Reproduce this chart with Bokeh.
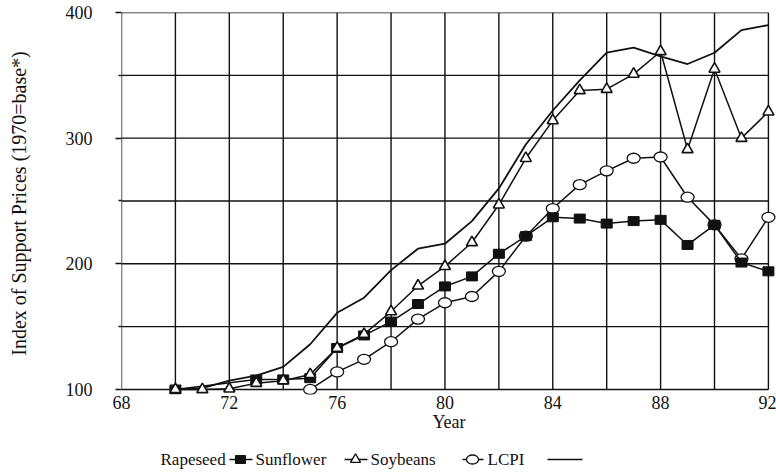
from bokeh.plotting import figure
from bokeh.models import FixedTicker, Range1d
from bokeh.layouts import column
from bokeh.core.properties import value
from bokeh.embed import file_html
from bokeh.resources import INLINE

# ---- data ----
rape_years = [70, 73, 74, 75, 76, 77, 78, 79, 80, 81, 82, 83, 84, 85, 86, 87, 88, 89, 90, 91, 92]
rapeseed = [100, 108, 108, 109, 133, 143, 154, 168, 182, 190, 208, 222, 237, 236, 232, 234, 235, 215, 231, 201, 194]

sun_years = list(range(70, 93))
sunflower = [100, 100, 100.5, 105, 107, 112, 133, 144, 162, 182.5, 198, 217, 247, 284, 314, 338, 339, 351, 369, 291, 355, 300, 321]

soy_years = list(range(75, 93))
soybeans = [100, 114, 124, 138, 156, 169, 174, 194, 222, 244, 263, 274, 284, 285, 253, 231, 204, 237]

lcpi_years = list(range(70, 93))
lcpi = [100, 101, 107, 111, 118, 136, 161, 173, 195, 212, 216, 234, 260, 295, 322, 346, 368, 372, 365, 359, 368, 386, 390]

x_ticks = [68, 72, 76, 80, 84, 88, 92]
x_grid = list(range(68, 93, 2))
y_ticks = [100, 200, 300, 400]
y_minor = [150, 250, 350]
y_grid = list(range(100, 401, 50))

series_labels = ["Rapeseed", "Sunflower", "Soybeans", "LCPI"]
x_title = "Year"
y_title = "Index of Support Prices (1970=base*)"

FONT = "Liberation Serif"
INK = "#111111"
X0, X1 = x_grid[0], x_grid[-1]
Y0, Y1 = y_grid[0], y_grid[-1]

# ranges padded slightly so edge markers are not clipped; the frame lines are drawn at 68/92 and 100/400
p = figure(width=776, height=440, output_backend="svg", toolbar_location=None,
           x_range=Range1d(X0, X1 + 0.3), y_range=Range1d(Y0 - 4, Y1),
           min_border_left=121, min_border_right=0, min_border_top=12, min_border_bottom=46,
           x_axis_label=x_title, y_axis_label=y_title)
p.outline_line_color = None
p.grid.visible = False
p.background_fill_color = "white"
p.border_fill_color = "white"

# grid / frame lines from the tick lists
p.segment(x0=x_grid, y0=[Y0] * len(x_grid), x1=x_grid, y1=[Y1] * len(x_grid),
          line_color=INK, line_width=1.4)
p.segment(x0=[X0] * len(y_grid), y0=y_grid, x1=[X1] * len(y_grid), y1=y_grid,
          line_color=INK, line_width=1.4)

p.xaxis.ticker = FixedTicker(ticks=x_ticks)
p.yaxis.ticker = FixedTicker(ticks=y_ticks, minor_ticks=y_minor)

for ax in (p.xaxis, p.yaxis):
    ax.axis_line_color = None
    ax.major_label_text_font = FONT
    ax.major_label_text_font_size = "18px"
    ax.major_label_text_color = INK
    ax.axis_label_text_font = FONT
    ax.axis_label_text_font_size = "18px"
    ax.axis_label_text_font_style = "normal"
    ax.axis_label_text_color = INK
    ax.major_tick_line_color = INK
    ax.minor_tick_line_color = INK
    ax.major_tick_line_width = 1.3
    ax.minor_tick_line_width = 1.3

p.xaxis.major_tick_out = 0
p.xaxis.major_tick_in = 0
p.xaxis.minor_tick_out = 0
p.xaxis.minor_tick_in = 0
p.xaxis.major_label_standoff = 1
p.xaxis.axis_label_standoff = 0

p.yaxis.major_tick_out = 6
p.yaxis.major_tick_in = 0
p.yaxis.minor_tick_out = 3
p.yaxis.minor_tick_in = 0
p.yaxis.major_label_standoff = 23
p.yaxis.axis_label_standoff = 33
p.yaxis.axis_label_text_font_size = "20px"

LW = 1.5
p.line(lcpi_years, lcpi, line_color=INK, line_width=1.8)
p.line(soy_years, soybeans, line_color=INK, line_width=LW)
p.ellipse(soy_years, soybeans, width=13, height=10, width_units="screen", height_units="screen",
          fill_color="white", line_color=INK, line_width=1.3)
p.line(rape_years, rapeseed, line_color=INK, line_width=LW)
p.rect(rape_years, rapeseed, width=11, height=9, width_units="screen", height_units="screen",
       fill_color=INK, line_color=INK)
p.line(sun_years, sunflower, line_color=INK, line_width=LW)
p.scatter(sun_years, sunflower, marker="triangle", size=11, fill_color="white",
          line_color=INK, line_width=1.6)

# ---- legend row (labels precede their symbols as in the reference); x in page pixels ----
leg = figure(width=776, height=33, output_backend="svg", toolbar_location=None,
             x_range=Range1d(121, 776), y_range=Range1d(0, 33),
             min_border_left=121, min_border_right=0, min_border_top=0, min_border_bottom=0)
leg.axis.visible = False
leg.grid.visible = False
leg.outline_line_color = None
text_x = [160, 255, 370, 487]
ly = 14
leg.text(text_x, [ly] * 4, text=series_labels, text_font=value(FONT), text_font_size="17px",
         text_baseline="middle", text_align="left", text_color=INK)
leg.segment(x0=[229, 344, 462, 547], y0=[ly] * 4, x1=[252, 367, 483, 582], y1=[ly] * 4,
            line_color=INK, line_width=1.5)
leg.rect([240], [ly], width=10, height=8, width_units="screen", height_units="screen",
         fill_color=INK, line_color=INK)
leg.scatter([355], [ly], marker="triangle", size=10, fill_color="white", line_color=INK, line_width=1.4)
leg.ellipse([472], [ly], width=12, height=9, width_units="screen", height_units="screen",
            fill_color="white", line_color=INK, line_width=1.3)

layout = column(p, leg, spacing=0)
open("out.html", "w").write(file_html(layout, INLINE))
